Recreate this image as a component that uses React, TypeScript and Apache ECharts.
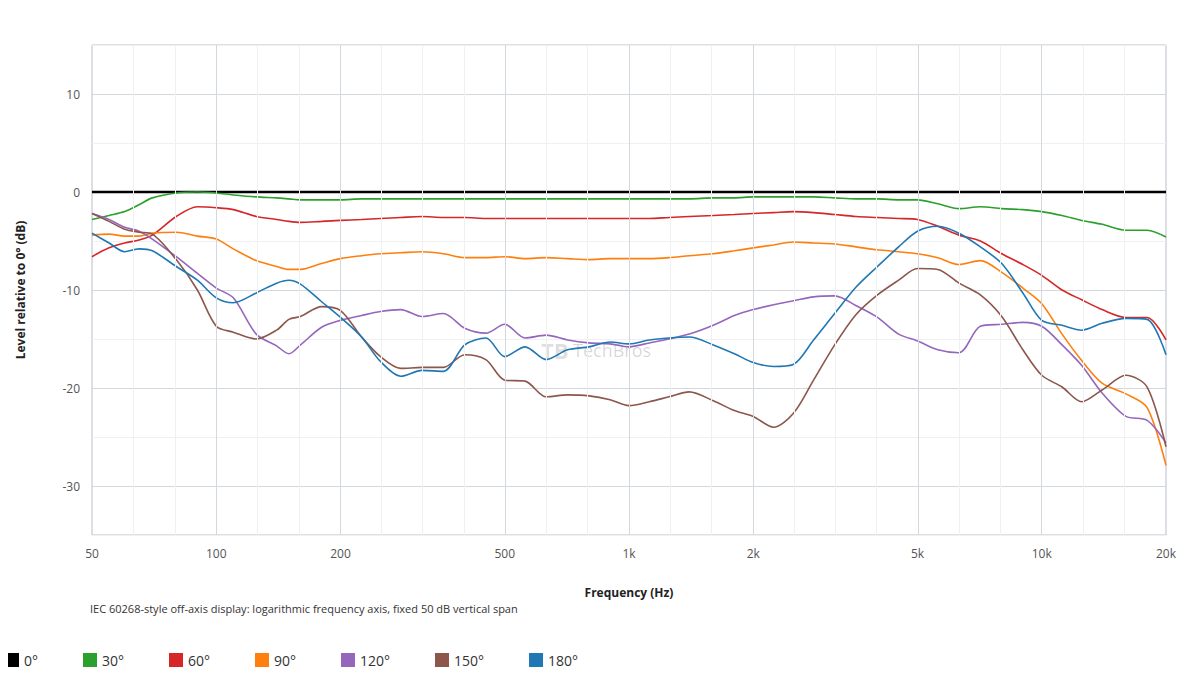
import { useEffect, useRef } from 'react';
import * as echarts from 'echarts';

// frequencies (Hz) shared by all curves
const FREQS = [
  50, 55, 60, 65, 70, 80, 90, 100, 110, 125, 140, 150, 160, 180, 200, 225, 250, 280, 315, 355,
  400, 450, 500, 560, 630, 710, 800, 900, 1000, 1120, 1250, 1400, 1600, 1800, 2000, 2240, 2500,
  2800, 3150, 3550, 4000, 4500, 5000, 5600, 6300, 7100, 8000, 9000, 10000, 11200, 12500, 14000,
  16000, 18000, 20000,
];

const DEG_30 = [
  -2.8, -2.4, -2.0, -1.3, -0.6, -0.1, 0, -0.1, -0.3, -0.5, -0.6, -0.7, -0.8, -0.8, -0.8, -0.7, -0.7,
  -0.7, -0.7, -0.7, -0.7, -0.7, -0.7, -0.7, -0.7, -0.7, -0.7, -0.7, -0.7, -0.7, -0.7, -0.7, -0.6,
  -0.6, -0.5, -0.5, -0.5, -0.5, -0.6, -0.7, -0.7, -0.8, -0.8, -1.2, -1.7, -1.5, -1.7, -1.8, -2.0,
  -2.4, -2.9, -3.3, -3.9, -3.9, -4.6,
];
const DEG_60 = [
  -6.6, -5.7, -5.2, -4.9, -4.4, -2.5, -1.5, -1.6, -1.8, -2.5, -2.8, -3.0, -3.1, -3.0, -2.9, -2.8,
  -2.7, -2.6, -2.5, -2.6, -2.6, -2.7, -2.7, -2.7, -2.7, -2.7, -2.7, -2.7, -2.7, -2.7, -2.6, -2.5,
  -2.4, -2.3, -2.2, -2.1, -2.0, -2.1, -2.3, -2.5, -2.6, -2.7, -2.8, -3.5, -4.4, -5.0, -6.3, -7.4,
  -8.5, -10.0, -11.0, -12.0, -12.8, -12.8, -15.1,
];
const DEG_90 = [
  -4.4, -4.3, -4.5, -4.5, -4.2, -4.1, -4.5, -4.8, -5.8, -7.0, -7.6, -7.9, -7.9, -7.3, -6.8, -6.5,
  -6.3, -6.2, -6.1, -6.3, -6.7, -6.7, -6.6, -6.8, -6.7, -6.8, -6.9, -6.8, -6.8, -6.8, -6.7, -6.5,
  -6.3, -6.0, -5.7, -5.4, -5.1, -5.2, -5.3, -5.6, -5.9, -6.1, -6.3, -6.7, -7.4, -7.0, -8.2, -9.8,
  -11.4, -14.5, -17.2, -19.5, -20.6, -22.0, -27.9,
];
const DEG_120 = [
  -2.2, -2.8, -3.6, -4.0, -4.8, -6.6, -8.3, -9.8, -10.8, -14.5, -15.7, -16.5, -15.6, -13.8, -13.1,
  -12.6, -12.2, -12.0, -12.7, -12.4, -13.9, -14.4, -13.5, -14.9, -14.6, -15.1, -15.4, -15.5, -15.8,
  -15.4, -15.0, -14.5, -13.6, -12.6, -12.0, -11.5, -11.1, -10.7, -10.6, -11.6, -12.8, -14.5, -15.2,
  -16.1, -16.4, -13.7, -13.5, -13.3, -13.7, -15.6, -17.7, -20.5, -22.9, -23.3, -25.6,
];
const DEG_150 = [
  -2.2, -3.0, -3.8, -4.1, -4.3, -6.9, -10.0, -13.7, -14.3, -15.0, -14.1, -13.0, -12.7, -11.7, -12.1,
  -14.8, -16.8, -18.0, -17.9, -17.9, -16.6, -17.1, -19.2, -19.3, -20.9, -20.7, -20.8, -21.2, -21.8,
  -21.4, -20.9, -20.4, -21.3, -22.3, -22.9, -24.0, -22.6, -19.2, -15.6, -12.5, -10.5, -9.0, -7.8,
  -7.9, -9.3, -10.5, -12.7, -16.1, -18.7, -19.9, -21.4, -20.2, -18.7, -19.9, -26.0,
];
const DEG_180 = [
  -4.2, -5.2, -6.1, -5.8, -6.0, -7.6, -9.0, -10.8, -11.3, -10.3, -9.3, -9.0, -9.4, -11.2, -12.8,
  -14.8, -17.3, -18.8, -18.2, -18.3, -15.6, -14.9, -16.8, -15.8, -17.1, -16.1, -15.8, -15.3, -15.5,
  -15.1, -14.9, -14.8, -15.6, -16.5, -17.4, -17.8, -17.6, -15.1, -12.4, -9.7, -7.6, -5.6, -4.0,
  -3.5, -4.2, -5.6, -7.3, -10.3, -13.1, -13.6, -14.1, -13.4, -12.9, -13.0, -16.6,
];

const SERIES = [
  { name: '0°', color: '#000000', values: FREQS.map(() => 0), width: 2.5 },
  { name: '30°', color: '#2ca02c', values: DEG_30, width: 1.6 },
  { name: '60°', color: '#d62728', values: DEG_60, width: 1.6 },
  { name: '90°', color: '#ff7f0e', values: DEG_90, width: 1.6 },
  { name: '120°', color: '#9467bd', values: DEG_120, width: 1.6 },
  { name: '150°', color: '#8c564b', values: DEG_150, width: 1.6 },
  { name: '180°', color: '#1f77b4', values: DEG_180, width: 1.6 },
];

const MAJOR_TICKS = [50, 100, 200, 500, 1000, 2000, 5000, 10000, 20000];
const MINOR_LOGS = [1.8, 1.9, 2.1, 2.2, 2.4, 2.5, 2.6, 2.8, 2.9, 3.1, 3.2, 3.4, 3.5, 3.6, 3.8, 3.9, 4.1, 4.2];

const fmtHz = (f: number) => (f >= 1000 ? `${Math.round(f / 1000)}k` : `${Math.round(f)}`);

export default function App() {
  const ref = useRef<HTMLDivElement | null>(null);

  useEffect(() => {
    if (!ref.current) return;
    const chart = echarts.init(ref.current, undefined, { renderer: 'svg' });
    const font = 'Open Sans, sans-serif';

    const gridLines = {
      type: 'line',
      data: [],
      silent: true,
      markLine: {
        silent: true,
        symbol: 'none',
        label: { show: false },
        animation: false,
        data: [
          ...MINOR_LOGS.map((v) => ({ xAxis: v, lineStyle: { color: '#eef0f2', width: 1, type: 'solid' } })),
          ...MAJOR_TICKS.slice(1, -1).map((f) => ({
            xAxis: Math.log10(f),
            lineStyle: { color: '#d3d8de', width: 1, type: 'solid' },
          })),
        ],
      },
    };

    chart.setOption({
      animation: false,
      textStyle: { fontFamily: font },
      grid: {
        left: 84,
        right: 26,
        top: 37,
        bottom: 157,
        show: true,
        borderColor: '#b8bec6',
        borderWidth: 1,
        outerBoundsMode: 'none',
        containLabel: false,
      },
      legend: {
        bottom: 20,
        left: -8,
        icon: 'rect',
        itemWidth: 14,
        itemHeight: 14,
        itemGap: 45,
        textStyle: { fontSize: 14, color: '#333', fontFamily: font },
        data: SERIES.map((s) => s.name),
      },
      xAxis: {
        type: 'value',
        min: Math.log10(50),
        max: Math.log10(20000),
        name: 'Frequency (Hz)',
        nameLocation: 'middle',
        nameGap: 51,
        nameTextStyle: { fontWeight: 'bold', fontSize: 12, color: '#222' },
        axisLine: { show: false },
        axisTick: { show: false },
        splitLine: { show: false },
        axisLabel: {
          customValues: MAJOR_TICKS.map((f) => Math.log10(f)),
          formatter: (v: number) => fmtHz(Math.pow(10, v)),
          fontSize: 12,
          color: '#555',
          margin: 12,
        },
      },
      yAxis: {
        type: 'value',
        min: -35,
        max: 15,
        interval: 5,
        name: 'Level relative to 0° (dB)',
        nameLocation: 'middle',
        nameGap: 66,
        nameTextStyle: { fontWeight: 'bold', fontSize: 12, color: '#222' },
        axisLine: { show: false },
        axisTick: { show: false },
        axisLabel: {
          formatter: (v: number) => (v % 10 === 0 ? String(v) : ''),
          fontSize: 12,
          color: '#555',
          margin: 12,
        },
        splitLine: { lineStyle: { color: ['#eef0f2', '#d3d8de'], width: 1 } },
      },
      graphic: [
        {
          type: 'text',
          left: 82,
          top: 595,
          style: {
            text: 'IEC 60268-style off-axis display: logarithmic frequency axis, fixed 50 dB vertical span',
            fontSize: 11,
            fill: '#333',
            fontFamily: font,
          },
        },
        {
          type: 'text',
          left: 533,
          top: 331,
          z: 0,
          style: { text: 'TB', fontSize: 22, fontWeight: 'bold', fill: 'rgba(0,0,0,0.15)', fontFamily: font },
        },
        {
          type: 'text',
          left: 565,
          top: 333,
          z: 0,
          style: { text: 'TechBros', fontSize: 18, fill: 'rgba(0,0,0,0.17)', fontFamily: font },
        },
      ],
      series: [
        gridLines,
        ...SERIES.map((s) => ({
          name: s.name,
          type: 'line',
          data: FREQS.map((f, i) => [Math.log10(f), s.values[i]]),
          smooth: 0.3,
          showSymbol: false,
          symbol: 'none',
          z: s.name === '0°' ? 3 : 4,
          lineStyle: { color: s.color, width: s.width },
          itemStyle: { color: s.color },
        })),
      ],
    });

    return () => chart.dispose();
  }, []);

  return <div ref={ref} style={{ width: 1184, height: 684 }} />;
}
